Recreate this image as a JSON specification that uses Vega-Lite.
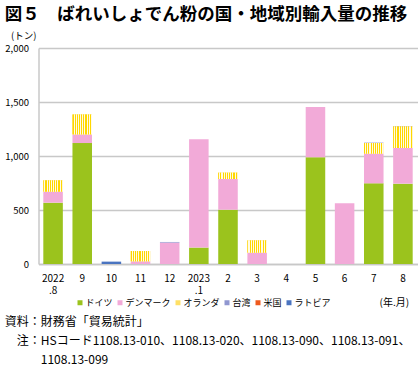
{
  "$schema": "https://vega.github.io/schema/vega-lite/v6.json",
  "padding": {"left": 4.5, "top": 5, "right": 0, "bottom": 0},
  "background": "white",
  "title": {
    "text": ["資料：財務省「貿易統計」", "\u200b　注：HSコード1108.13-010、1108.13-020、1108.13-090、1108.13-091、", "\u200b　　　1108.13-099"],
    "orient": "bottom",
    "anchor": "start",
    "font": "Noto Sans CJK JP",
    "fontSize": 12,
    "fontWeight": "normal",
    "lineHeight": 19,
    "color": "#000000",
    "offset": 9
  },
  "config": {
    "font": "Noto Sans CJK JP",
    "view": {"stroke": null},
    "concat": {"spacing": 0}
  },
  "data": {
    "values": [
      {"m": "2022|.8", "c": "ドイツ", "v": 568, "k": 1},
      {"m": "2022|.8", "c": "デンマーク", "v": 102, "k": 2},
      {"m": "2022|.8", "c": "オランダ", "v": 105, "k": 3},
      {"m": "9", "c": "ドイツ", "v": 1120, "k": 1},
      {"m": "9", "c": "デンマーク", "v": 80, "k": 2},
      {"m": "9", "c": "オランダ", "v": 185, "k": 3},
      {"m": "10", "c": "ラトビア", "v": 22, "k": 6},
      {"m": "11", "c": "デンマーク", "v": 25, "k": 2},
      {"m": "11", "c": "オランダ", "v": 95, "k": 3},
      {"m": "12", "c": "デンマーク", "v": 198, "k": 2},
      {"m": "12", "c": "台湾", "v": 6, "k": 4},
      {"m": "2023|.1", "c": "ドイツ", "v": 152, "k": 1},
      {"m": "2023|.1", "c": "デンマーク", "v": 1003, "k": 2},
      {"m": "2", "c": "ドイツ", "v": 503, "k": 1},
      {"m": "2", "c": "デンマーク", "v": 284, "k": 2},
      {"m": "2", "c": "オランダ", "v": 59, "k": 3},
      {"m": "3", "c": "デンマーク", "v": 105, "k": 2},
      {"m": "3", "c": "オランダ", "v": 114, "k": 3},
      {"m": "4", "c": "ドイツ", "v": 0, "k": 1},
      {"m": "5", "c": "ドイツ", "v": 988, "k": 1},
      {"m": "5", "c": "デンマーク", "v": 466, "k": 2},
      {"m": "6", "c": "デンマーク", "v": 562, "k": 2},
      {"m": "7", "c": "ドイツ", "v": 747, "k": 1},
      {"m": "7", "c": "デンマーク", "v": 275, "k": 2},
      {"m": "7", "c": "オランダ", "v": 98, "k": 3},
      {"m": "7", "c": "台湾", "v": 4, "k": 4},
      {"m": "8", "c": "ドイツ", "v": 744, "k": 1},
      {"m": "8", "c": "デンマーク", "v": 330, "k": 2},
      {"m": "8", "c": "オランダ", "v": 200, "k": 3},
      {"m": "8", "c": "台湾", "v": 4, "k": 4}
    ]
  },
  "transform": [
    {"stack": "v", "groupby": ["m"], "sort": [{"field": "k", "order": "ascending"}], "as": ["y0", "y1"]}
  ],
  "vconcat": [
    {
      "width": 379,
      "height": 216,
      "title": {
        "text": "図５　ばれいしょでん粉の国・地域別輸入量の推移",
        "anchor": "start",
        "fontSize": 17.5,
        "fontWeight": "bold",
        "font": "Noto Sans CJK JP",
        "color": "#000000",
        "offset": 7
      },
      "encoding": {
        "x": {
          "field": "m",
          "type": "nominal",
          "sort": null,
          "scale": {"paddingInner": 0.33, "paddingOuter": 0.165},
          "axis": {
            "title": null,
            "labelAngle": 0,
            "labelExpr": "split(datum.label, '|')",
            "labelFontSize": 10,
            "labelColor": "#000000",
            "labelPadding": 9,
            "labelLineHeight": 12,
            "ticks": false,
            "domainColor": "#c8c8c8",
            "domainWidth": 1.5
          }
        },
        "y": {
          "field": "y1",
          "type": "quantitative",
          "scale": {"domain": [0, 2000], "nice": false},
          "axis": {
            "title": "(トン)",
            "titleAngle": 0,
            "titleAlign": "left",
            "titleBaseline": "middle",
            "titleX": -28,
            "titleY": -13,
            "titleFontSize": 9.5,
            "titleFontWeight": "normal",
            "titleColor": "#000000",
            "values": [0, 500, 1000, 1500, 2000],
            "format": ",d",
            "labelFontSize": 9.5,
            "labelColor": "#000000",
            "labelPadding": 10,
            "ticks": false,
            "gridColor": "#c8c8c8",
            "gridWidth": 1.5,
            "domainColor": "#c8c8c8",
            "domainWidth": 1.5
          }
        },
        "y2": {"field": "y0"}
      },
      "layer": [
        {
          "mark": {"type": "bar"},
          "encoding": {
            "color": {
              "field": "c",
              "type": "nominal",
              "scale": {
                "domain": ["ドイツ", "デンマーク", "オランダ", "台湾", "米国", "ラトビア"],
                "range": ["#9bc31d", "#f2aad8", "#ffe066", "#9097d0", "#ee5a1e", "#4a74c0"]
              },
              "legend": {
                "orient": "none",
                "legendX": 37,
                "legendY": 250,
                "direction": "horizontal",
                "title": "(年.月)",
                "titleOrient": "right",
                "titleFontSize": 10,
                "titleFontWeight": "normal",
                "titleColor": "#000000",
                "titlePadding": 49,
                "symbolType": "square",
                "symbolSize": 25,
                "symbolStrokeWidth": 0,
                "labelFontSize": 9,
                "labelColor": "#000000",
                "labelOffset": 1,
                "columnPadding": 2
              }
            }
          }
        },
        {
          "transform": [{"filter": "datum.c === 'オランダ'"}],
          "mark": {
            "type": "bar",
            "color": {
              "gradient": "linear", "x1": 0, "y1": 0, "x2": 1, "y2": 0,
              "stops": [
                {"offset": 0.0, "color": "#ffd700"}, {"offset": 0.055, "color": "#ffd700"}, {"offset": 0.055, "color": "#fffbe6"}, {"offset": 0.111, "color": "#fffbe6"},
                {"offset": 0.111, "color": "#ffd700"}, {"offset": 0.166, "color": "#ffd700"}, {"offset": 0.166, "color": "#fffbe6"}, {"offset": 0.222, "color": "#fffbe6"},
                {"offset": 0.222, "color": "#ffd700"}, {"offset": 0.277, "color": "#ffd700"}, {"offset": 0.277, "color": "#fffbe6"}, {"offset": 0.333, "color": "#fffbe6"},
                {"offset": 0.333, "color": "#ffd700"}, {"offset": 0.388, "color": "#ffd700"}, {"offset": 0.388, "color": "#fffbe6"}, {"offset": 0.444, "color": "#fffbe6"},
                {"offset": 0.444, "color": "#ffd700"}, {"offset": 0.5, "color": "#ffd700"}, {"offset": 0.5, "color": "#fffbe6"}, {"offset": 0.555, "color": "#fffbe6"},
                {"offset": 0.555, "color": "#ffd700"}, {"offset": 0.611, "color": "#ffd700"}, {"offset": 0.611, "color": "#fffbe6"}, {"offset": 0.666, "color": "#fffbe6"},
                {"offset": 0.666, "color": "#ffd700"}, {"offset": 0.722, "color": "#ffd700"}, {"offset": 0.722, "color": "#fffbe6"}, {"offset": 0.777, "color": "#fffbe6"},
                {"offset": 0.777, "color": "#ffd700"}, {"offset": 0.833, "color": "#ffd700"}, {"offset": 0.833, "color": "#fffbe6"}, {"offset": 0.888, "color": "#fffbe6"},
                {"offset": 0.888, "color": "#ffd700"}, {"offset": 0.944, "color": "#ffd700"}, {"offset": 0.944, "color": "#fffbe6"}, {"offset": 1.0, "color": "#fffbe6"}
              ]
            }
          }
        }
      ]
    }
  ]
}
